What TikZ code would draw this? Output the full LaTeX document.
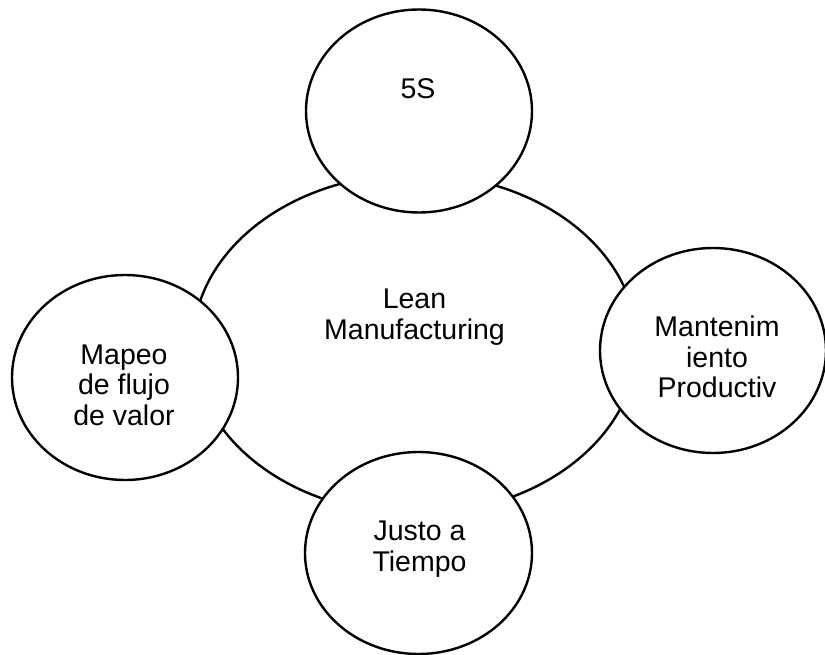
\documentclass[tikz,border=0pt]{standalone}
\usepackage{fontspec}
\setmainfont{Liberation Sans}
\usetikzlibrary{shapes.geometric}
\begin{document}
\begin{tikzpicture}[x=1pt,y=-1pt,
  bubble/.style={ellipse,draw=black,fill=white,line width=2.4pt,inner sep=0pt},
  caption/.style={align=center,inner sep=0pt,
    font=\fontsize{28.5pt}{30.5pt}\selectfont}]
  \clip (0,0) rectangle (825,655);
  \fill[white] (0,0) rectangle (825,655);
  % central topic
  \node[bubble,minimum width=444pt,minimum height=340pt] (lean) at (415,344) {};
  % surrounding practices
  \node[bubble,minimum width=226pt,minimum height=203pt] (fives) at (419,111) {};
  \node[bubble,minimum width=226pt,minimum height=205pt] (vsm) at (125,377.5) {};
  \node[bubble,minimum width=226pt,minimum height=205pt] (tpm) at (713,350.5) {};
  \node[bubble,minimum width=227pt,minimum height=202pt] (jit) at (418.5,553) {};
  % labels
  \node[caption] (lean-t) at (414.5,317) {Lean\\Manufacturing};
  \node[caption] (fives-t) at (418,89) {5S};
  \node[caption] (vsm-t) at (124,385) {Mapeo\\de flujo\\de valor};
  \node[caption] (tpm-t) at (717,357) {Mantenim\\iento\\Productiv};
  \node[caption] (jit-t) at (419.5,549) {Justo a\\Tiempo};
\end{tikzpicture}
\end{document}
